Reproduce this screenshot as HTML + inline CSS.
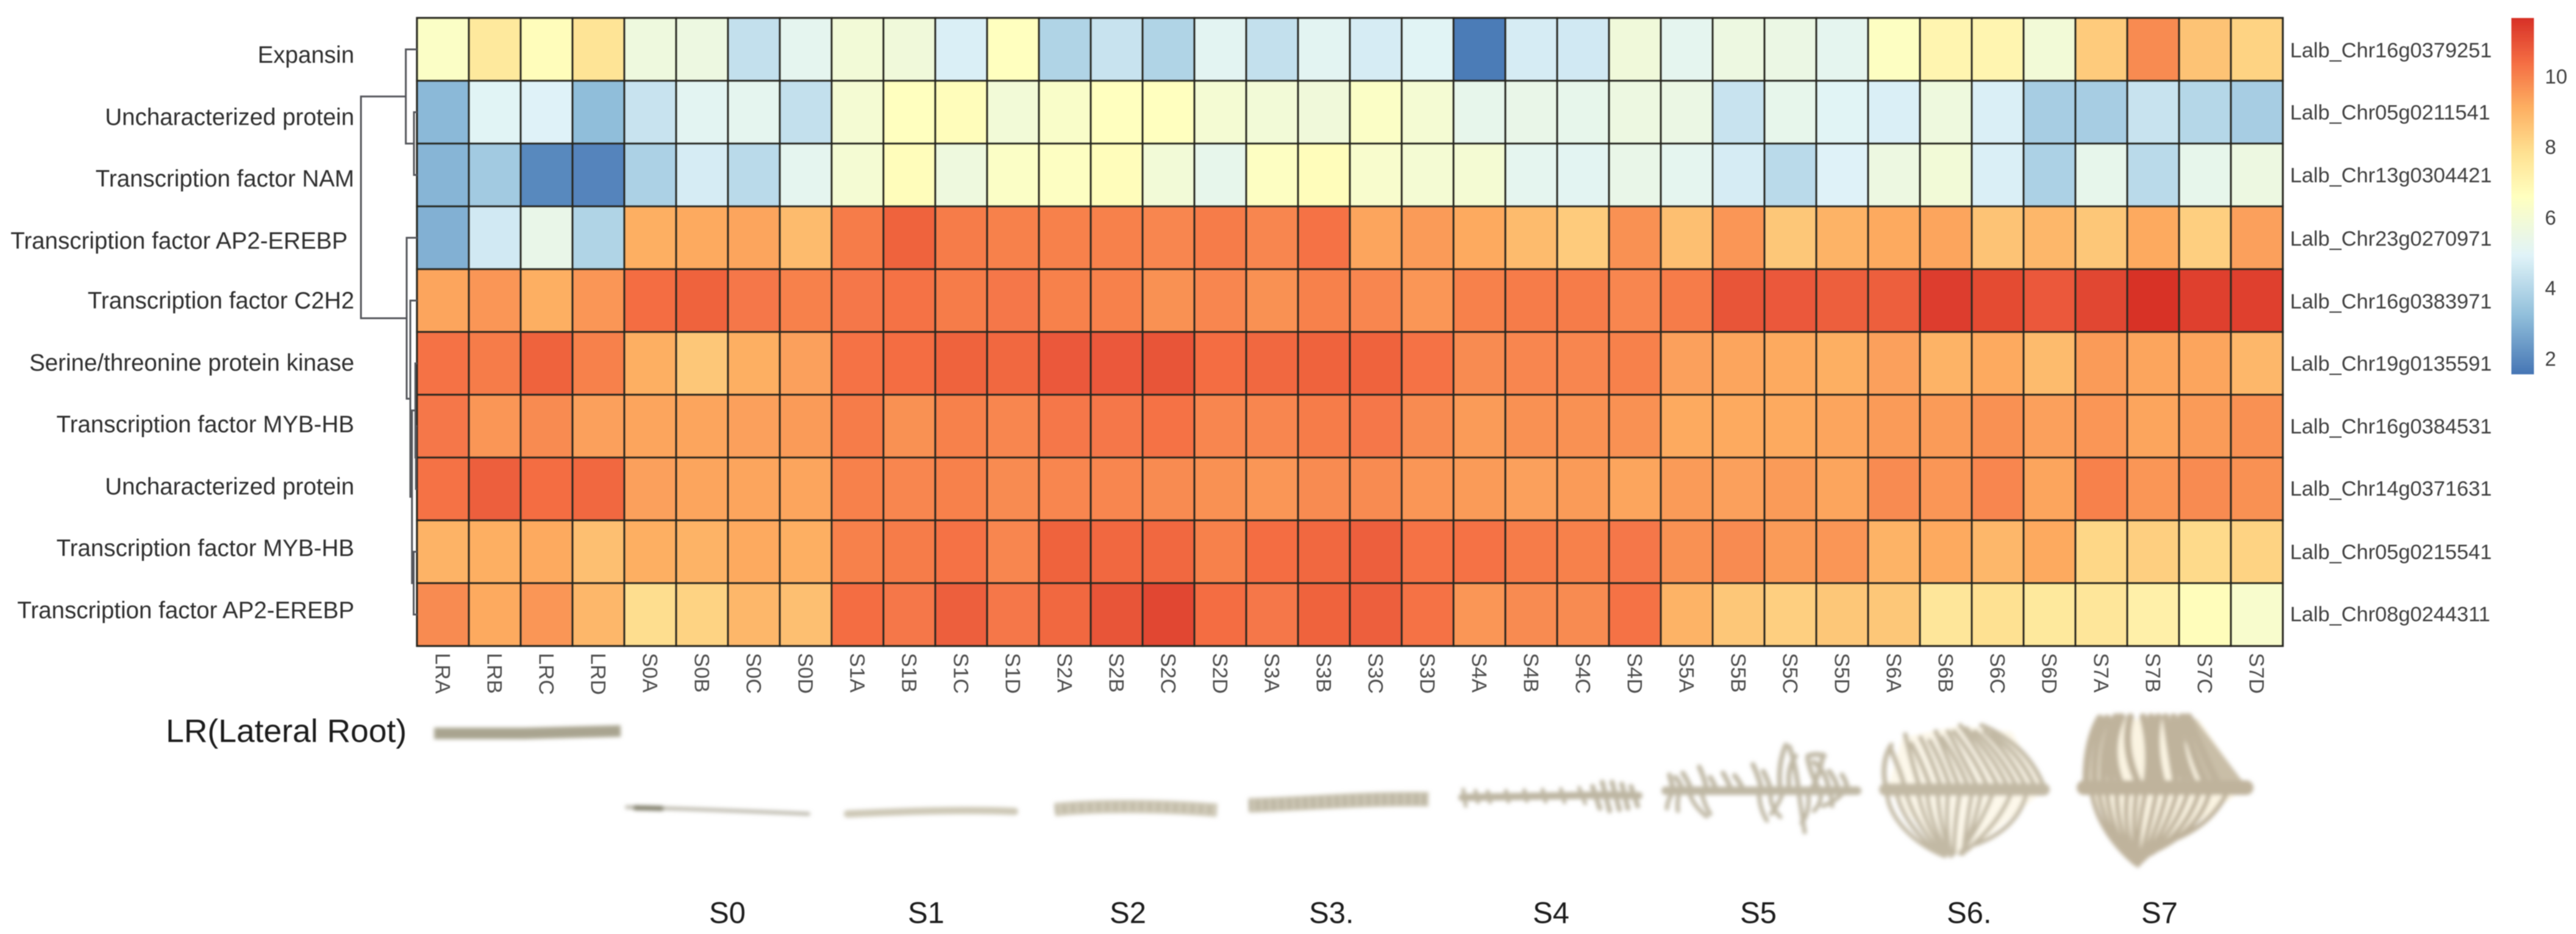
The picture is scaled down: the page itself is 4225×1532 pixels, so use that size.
<!DOCTYPE html>
<html lang="en">
<head>
<meta charset="utf-8">
<title>Gene expression heatmap across lateral root stages</title>
<style>
html,body{margin:0;padding:0;background:#fff}
svg{display:block}
text{font-family:"Liberation Sans",Arial,sans-serif}
</style>
</head>
<body>
<svg id="fig" xmlns="http://www.w3.org/2000/svg" width="4225" height="1532" viewBox="0 0 4225 1532">
<defs>
<filter id="soft" filterUnits="userSpaceOnUse" x="0" y="0" width="4225" height="1532"><feGaussianBlur stdDeviation="0.9"/></filter>
<filter id="rootblur" filterUnits="userSpaceOnUse" x="0" y="1100" width="4225" height="400"><feGaussianBlur stdDeviation="3.4"/></filter>
<linearGradient id="cbar-gradient" x1="0" y1="1" x2="0" y2="0"></linearGradient>
</defs>
<rect width="4225" height="1532" fill="#ffffff"/>
<g id="chart" filter="url(#soft)"></g>

<g filter="url(#rootblur)" fill="none" stroke-linecap="round">
  <g>
    <path d="M712 1203 L860 1203 L1018 1199" stroke="#a9a490" stroke-width="19" stroke-linecap="butt"/>
  </g>
  <g>
    <path d="M1028 1324 C1100 1326 1200 1329 1326 1335" stroke="#bbb8ab" stroke-width="6"/>
    <path d="M1042 1325 L1085 1326" stroke="#7d7a66" stroke-width="8"/>
  </g>
  <g>
    <path d="M1390 1335 C1480 1331 1580 1327 1664 1331" stroke="#cdc8b6" stroke-width="12"/>
  </g>
  <g stroke-linecap="butt">
    <path d="M1730 1328 C1800 1321 1900 1321 1996 1329" stroke="#cfc9b7" stroke-width="22"/>
    <path d="M1730 1328 C1800 1321 1900 1321 1996 1329" stroke="#a9a28d" stroke-width="14" stroke-dasharray="4 10" opacity=".55"/>
  </g>
  <g stroke-linecap="butt">
    <path d="M2048 1321 C2130 1319 2240 1309 2343 1311" stroke="#cbc5b2" stroke-width="24"/>
    <path d="M2048 1321 C2130 1319 2240 1309 2343 1311" stroke="#a49d88" stroke-width="18" stroke-dasharray="4 9" opacity=".55"/>
  </g>
  <g stroke="#bdb6a2">
    <path d="M2398 1308 L2640 1304 L2688 1305" stroke-width="12"/>
    <path d="M2400 1295 L2404 1322 M2420 1297 L2424 1316 M2440 1298 L2444 1316 M2470 1297 L2474 1315 M2500 1296 L2504 1314 M2530 1295 L2535 1315 M2560 1294 L2566 1316 M2590 1292 L2600 1318" stroke-width="6"/>
    <path d="M2612 1290 L2624 1326 M2628 1283 L2640 1330 M2644 1283 L2656 1328 M2660 1286 L2670 1326 M2675 1290 L2686 1322" stroke-width="8"/>
  </g>
  <g stroke="#bfb8a4">
    <path d="M2732 1297 L3046 1297" stroke-width="14"/>
    <path d="M2745 1297 Q2742 1285 2738 1271 M2760 1297 Q2755 1282 2748 1275 M2775 1297 Q2768 1280 2760 1268 M2800 1297 Q2795 1275 2787 1258 M2815 1297 Q2812 1285 2805 1275 M2840 1297 Q2835 1283 2826 1268 M2860 1297 Q2855 1285 2845 1272 M2890 1297 Q2885 1275 2875 1254 M2905 1297 Q2900 1280 2892 1265 M2920 1297 Q2915 1255 2929 1222 M2950 1297 Q2945 1255 2935 1225 M2935 1297 Q2930 1260 2945 1240 M2970 1297 Q2985 1270 2990 1238 M2965 1240 Q2980 1235 2992 1240 M2985 1297 Q2970 1270 2965 1245 M3000 1297 Q2995 1265 2975 1250 M3015 1297 Q3012 1280 3000 1265 M3030 1297 Q3030 1285 3021 1271" stroke-width="8"/>
    <path d="M2745 1297 Q2735 1312 2734 1326 M2755 1297 Q2750 1315 2752 1330 M2770 1297 Q2775 1320 2799 1339 M2790 1297 Q2795 1320 2805 1335 M2885 1297 Q2885 1325 2898 1346 M2905 1297 Q2900 1320 2920 1340 M2925 1297 Q2920 1315 2905 1335 M2950 1297 Q2955 1335 2960 1365 M2965 1297 Q2970 1330 2955 1350 M2985 1297 Q2990 1315 2975 1330 M3000 1297 Q3005 1310 3005 1322 M3025 1297 Q3015 1312 2990 1322" stroke-width="7"/>
  </g>
  <g stroke="#c2b9a4">
    <path d="M3095 1295 L3352 1295 L3300 1200 L3215 1190 L3120 1210 Z M3095 1297 L3352 1297 L3225 1400 L3190 1402 Z" fill="#fdf8ea" stroke="none"/>
    <path d="M3092 1295 L3352 1295" stroke-width="20"/>
    <path d="M3095 1295 C3086 1270 3090 1240 3102 1222 M3125 1295 C3118 1265 3105 1240 3100 1225 M3150 1295 Q3135 1250 3125 1205 M3168 1295 Q3152 1250 3135 1220 M3185 1295 Q3170 1250 3150 1210 M3200 1295 Q3185 1250 3165 1215 M3215 1295 Q3195 1245 3175 1200 M3230 1295 Q3210 1245 3185 1210 M3245 1295 Q3220 1245 3195 1200 M3262 1295 Q3240 1245 3205 1200 M3280 1295 Q3255 1245 3215 1190 M3295 1295 Q3270 1240 3225 1195 M3310 1295 Q3280 1235 3240 1200 M3325 1295 Q3295 1235 3255 1200 M3340 1295 Q3310 1230 3265 1205 M3354 1295 Q3325 1220 3250 1190" stroke-width="8"/>
    <path d="M3095 1297 C3095 1340 3140 1385 3190 1404 M3110 1297 Q3120 1350 3180 1400 M3125 1297 Q3140 1350 3185 1400 M3145 1297 Q3155 1350 3190 1400 M3160 1297 Q3165 1350 3195 1400 M3178 1297 Q3180 1350 3198 1400 M3195 1297 Q3190 1360 3200 1404 M3215 1297 Q3205 1350 3205 1400 M3235 1297 Q3225 1350 3220 1400 M3250 1297 Q3240 1350 3218 1400 M3270 1297 Q3250 1350 3215 1400 M3300 1297 Q3280 1350 3225 1395 M3325 1297 Q3310 1360 3240 1385" stroke-width="7"/>
  </g>
  <g stroke="#bfb39c">
    <path d="M3448 1180 L3606 1180 L3684 1292 L3418 1292 Z M3420 1295 L3680 1295 L3510 1415 Z" fill="#fbf4e2" stroke="none"/>
    <path d="M3600 1178 L3686 1292 L3622 1292 L3565 1178 Z" fill="#c0b49c" stroke="none" opacity=".85"/>
    <path d="M3418 1292 L3684 1292" stroke-width="24"/>
    <path d="M3422 1290 Q3420 1220 3444 1178 M3436 1290 Q3432 1220 3456 1178 M3450 1290 Q3445 1220 3470 1176 M3465 1290 Q3450 1230 3476 1176 M3480 1290 Q3455 1230 3480 1176 M3510 1290 Q3480 1230 3494 1176 M3520 1290 Q3530 1230 3515 1176 M3535 1290 Q3525 1230 3528 1176 M3548 1290 Q3530 1230 3540 1176 M3570 1290 Q3560 1230 3552 1176 M3585 1290 Q3565 1230 3565 1176 M3600 1290 Q3570 1230 3578 1176 M3620 1290 Q3590 1230 3584 1176 M3640 1290 Q3610 1230 3590 1176" stroke-width="12"/>
    <path d="M3430 1295 Q3440 1360 3495 1410 M3442 1295 Q3450 1360 3498 1412 M3455 1295 Q3460 1360 3500 1415 M3472 1295 Q3470 1360 3503 1415 M3490 1295 Q3480 1360 3506 1419 M3505 1295 Q3495 1360 3506 1419 M3520 1295 Q3505 1360 3506 1419 M3538 1295 Q3525 1360 3508 1415 M3555 1295 Q3540 1360 3510 1415 M3572 1295 Q3555 1360 3515 1410 M3590 1295 Q3570 1360 3520 1405 M3608 1295 Q3590 1360 3528 1400 M3625 1295 Q3610 1360 3535 1395 M3655 1295 Q3630 1350 3570 1375" stroke-width="8"/>
  </g>
</g>

<g filter="url(#soft)" fill="#1f1f1f" font-size="49">
  <text x="272" y="1217" font-size="53" textLength="395" lengthAdjust="spacingAndGlyphs">LR(Lateral Root)</text>
  <text x="1163" y="1514">S0</text>
  <text x="1489" y="1514">S1</text>
  <text x="1820" y="1514">S2</text>
  <text x="2147" y="1514">S3.</text>
  <text x="2514" y="1514">S4</text>
  <text x="2854" y="1514">S5</text>
  <text x="3193" y="1514">S6.</text>
  <text x="3512" y="1514">S7</text>
</g>
</svg>

<script>
// ---------- data ----------
const sampleLabels = ["LRA","LRB","LRC","LRD","S0A","S0B","S0C","S0D","S1A","S1B","S1C","S1D","S2A","S2B","S2C","S2D","S3A","S3B","S3C","S3D","S4A","S4B","S4C","S4D","S5A","S5B","S5C","S5D","S6A","S6B","S6C","S6D","S7A","S7B","S7C","S7D"];
const proteinLabels = ["Expansin","Uncharacterized protein","Transcription factor NAM","Transcription factor AP2-EREBP","Transcription factor C2H2","Serine/threonine protein kinase","Transcription factor MYB-HB","Uncharacterized protein","Transcription factor MYB-HB","Transcription factor AP2-EREBP"];
const geneLabels = ["Lalb_Chr16g0379251","Lalb_Chr05g0211541","Lalb_Chr13g0304421","Lalb_Chr23g0270971","Lalb_Chr16g0383971","Lalb_Chr19g0135591","Lalb_Chr16g0384531","Lalb_Chr14g0371631","Lalb_Chr05g0215541","Lalb_Chr08g0244311"];

const g0379251 = [6.4,7.5,6.7,7.7, 5.7,5.6,4.3,5.2, 5.9,5.8,4.8,6.6, 3.9,4.4,3.9,5.1, 4.3,5.1,4.7,5.0, 1.7,4.7,4.6,5.8, 5.2,5.6,5.5,5.2, 6.5,7.0,7.0,5.9, 8.4,9.8,8.6,8.2];
const g0211541 = [3.1,5.0,4.9,3.2, 4.4,5.1,5.2,4.3, 6.0,6.6,6.7,5.9, 6.3,6.6,6.6,6.0, 5.9,5.8,6.4,6.0, 5.3,5.4,5.3,5.6, 5.5,4.4,5.3,5.0, 4.8,5.7,4.8,3.7, 3.7,4.4,4.0,3.7];
const g0304421 = [3.0,3.6,2.0,1.9, 3.8,4.7,4.1,5.2, 6.0,6.7,5.7,6.4, 6.5,6.7,5.9,5.3, 6.5,6.7,6.2,6.0, 6.0,5.2,5.1,5.4, 5.2,4.7,4.1,4.9, 5.6,5.9,4.8,3.8, 5.3,4.1,5.3,5.6];
const g0270971 = [2.9,4.6,5.4,3.9, 9.1,9.2,9.3,8.8, 10.1,10.6,10.1,10.0, 10.0,10.0,9.9,10.1, 9.9,10.3,9.3,9.5, 9.2,8.8,8.4,9.7, 8.7,9.6,8.5,9.0, 9.2,9.3,8.6,8.9, 8.5,9.2,8.3,9.4];
const g0383971 = [9.3,9.6,9.1,9.6, 10.4,10.6,10.2,10.0, 10.2,10.3,10.1,10.2, 10.0,10.0,9.7,9.9, 9.7,10.0,9.9,9.6, 10.0,10.1,10.1,9.9, 10.1,10.9,10.8,10.7, 10.7,11.4,11.1,10.8, 11.2,11.6,11.3,11.3];
const g0135591 = [10.3,10.1,10.6,10.0, 9.1,8.5,9.1,9.4, 10.3,10.4,10.6,10.5, 10.8,10.8,10.9,10.4, 10.5,10.6,10.6,10.3, 9.8,9.9,9.9,10.0, 9.4,9.3,9.2,9.1, 9.4,9.0,9.2,8.8, 9.5,9.3,9.3,8.9];
const g0384531 = [10.2,9.6,9.8,9.4, 9.3,9.3,9.4,9.5, 10.1,9.7,10.0,9.9, 10.2,10.2,10.3,9.9, 9.9,10.1,10.2,9.8, 9.5,9.7,9.7,9.7, 9.2,9.2,9.2,9.3, 9.5,9.5,9.7,9.4, 9.6,9.3,9.5,9.7];
const g0371631 = [10.3,10.7,10.4,10.5, 9.4,9.3,9.3,9.3, 10.0,9.9,10.0,9.8, 9.9,9.9,9.8,9.7, 9.6,9.8,9.8,9.6, 9.5,9.4,9.5,9.3, 9.5,9.4,9.5,9.3, 9.8,9.6,9.9,9.3, 10.0,9.6,9.8,9.7];
const g0215541 = [9.0,9.1,9.2,8.7, 9.1,9.0,9.2,9.1, 10.0,10.1,10.3,9.9, 10.6,10.5,10.5,10.0, 10.4,10.5,10.7,10.3, 10.3,10.1,10.0,10.2, 9.7,9.8,9.5,9.6, 9.0,9.2,8.9,9.2, 8.1,8.3,8.0,8.2];
const g0244311 = [9.8,9.2,9.6,8.9, 7.9,8.2,8.9,8.7, 10.4,10.2,10.7,10.2, 10.5,10.9,11.2,10.4, 10.2,10.6,10.7,10.3, 9.6,9.8,9.8,10.3, 9.0,8.5,8.3,8.5, 8.5,7.6,7.8,7.5, 7.6,7.2,6.7,6.2];
const expressionRows = [g0379251,g0211541,g0304421,g0270971,g0383971,g0135591,g0384531,g0371631,g0215541,g0244311];

const colorTicks = [2,4,6,8,10];
const colorDomain = [1.55,11.65];
const paletteValues = [1.55,3.23,4.92,6.6,7.86,9.13,10.39,11.65];
const paletteStops = ["#4575B4","#91BFDB","#E0F3F8","#FFFFBF","#FEE090","#FDAE61","#F46D43","#D73027"];

// Hierarchical clustering: [left, right, height]; non-negative = row index, negative = -(merge index + 1)
const dendroMerges = [[1,2,0.55],[0,-1,2.0],[6,7,0.2],[5,-3,0.3],[8,9,0.6],[-4,-5,0.9],[4,-6,1.2],[3,-7,1.85],[-2,-8,10.0]];

// ---------- layout + scales ----------
const NS = "http://www.w3.org/2000/svg";
const chart = document.getElementById("chart");
const plot = {left:684, top:29.5, right:3744, bottom:1059.5};
const colW = (plot.right-plot.left)/sampleLabels.length;
const rowH = (plot.bottom-plot.top)/expressionRows.length;
const xCol = i => plot.left + i*colW;
const yRow = i => plot.top + i*rowH;
const bar = {left:4119, right:4156, top:29.5, bottom:614};
const yBar = v => bar.bottom - (v-colorDomain[0])/(colorDomain[1]-colorDomain[0])*(bar.bottom-bar.top);
const xDendro = h => plot.left - h*9.2;

function hexToRgb(h){return [1,3,5].map(i=>parseInt(h.substr(i,2),16));}
function colorOf(v){
  const x = Math.max(colorDomain[0],Math.min(colorDomain[1],v));
  let i = 0;
  while(i<paletteValues.length-2 && x>paletteValues[i+1]) i++;
  const f = (x-paletteValues[i])/(paletteValues[i+1]-paletteValues[i]);
  const a = hexToRgb(paletteStops[i]), b = hexToRgb(paletteStops[i+1]);
  return "rgb("+a.map((c,k)=>Math.round(c+(b[k]-c)*f)).join(",")+")";
}
function mk(tag,attrs,parent){
  const el = document.createElementNS(NS,tag);
  for(const k in attrs) el.setAttribute(k,attrs[k]);
  (parent||chart).appendChild(el);
  return el;
}

// ---------- heatmap cells ----------
const cellGroup = mk("g",{});


expressionRows.forEach((row,r)=>{
  row.forEach((v,c)=>{
    const cell = mk("rect",{x:xCol(c),y:yRow(r),width:colW,height:rowH,fill:colorOf(v),stroke:"#2c2a24","stroke-width":3.4},cellGroup);
    
    
  });
});

// ---------- labels ----------
const leftBaselineShift = [22,21,19,18,13,12,10,9,7,6];
proteinLabels.forEach((t,r)=>{
  const xEnd = r===3 ? 570 : 581;
  const el = mk("text",{x:xEnd,y:yRow(r)+rowH/2+leftBaselineShift[r],"text-anchor":"end","font-size":38.5,fill:"#2e2e2e"});
  el.textContent = t;
  
  
});
const rightBaselineShift = [13,12,12,13,13,12,12,11,12,11];
geneLabels.forEach((t,r)=>{
  const el = mk("text",{x:3756,y:yRow(r)+rowH/2+rightBaselineShift[r],"font-size":34.4,fill:"#3f3f3f"});
  el.textContent = t;
  
  
});
sampleLabels.forEach((t,c)=>{
  const el = mk("text",{transform:"translate("+(xCol(c)+colW/2-12)+",1071) rotate(90)","font-size":34.4,fill:"#4d4d4d"});
  el.textContent = t;
  
  
});

// ---------- dendrogram ----------
const dendroGroup = mk("g",{fill:"none",stroke:"#55565c","stroke-width":3});


const nodes = [];
function nodeOf(id){ return id>=0 ? {x:plot.left,y:yRow(id)+rowH/2} : nodes[-id-1]; }
dendroMerges.forEach(m=>{
  const a = nodeOf(m[0]), b = nodeOf(m[1]), x = xDendro(m[2]);
  const branch = mk("path",{d:"M"+a.x+" "+a.y+"H"+x+"V"+b.y+"H"+b.x},dendroGroup);
  
  
  nodes.push({x:x,y:(a.y+b.y)/2});
});

// ---------- colour bar ----------
const grad = document.getElementById("cbar-gradient");
paletteStops.forEach((c,i)=>{
  const s = document.createElementNS(NS,"stop");
  s.setAttribute("offset",(paletteValues[i]-colorDomain[0])/(colorDomain[1]-colorDomain[0]));
  s.setAttribute("stop-color",c);
  grad.appendChild(s);
});
const cbar = mk("rect",{x:bar.left,y:bar.top,width:bar.right-bar.left,height:bar.bottom-bar.top,fill:"url(#cbar-gradient)"});


colorTicks.forEach(v=>{
  const el = mk("text",{x:4174,y:yBar(v)+12,"font-size":33,fill:"#3f3f3f"});
  el.textContent = v;
  
  
});
</script>
</body>
</html>
